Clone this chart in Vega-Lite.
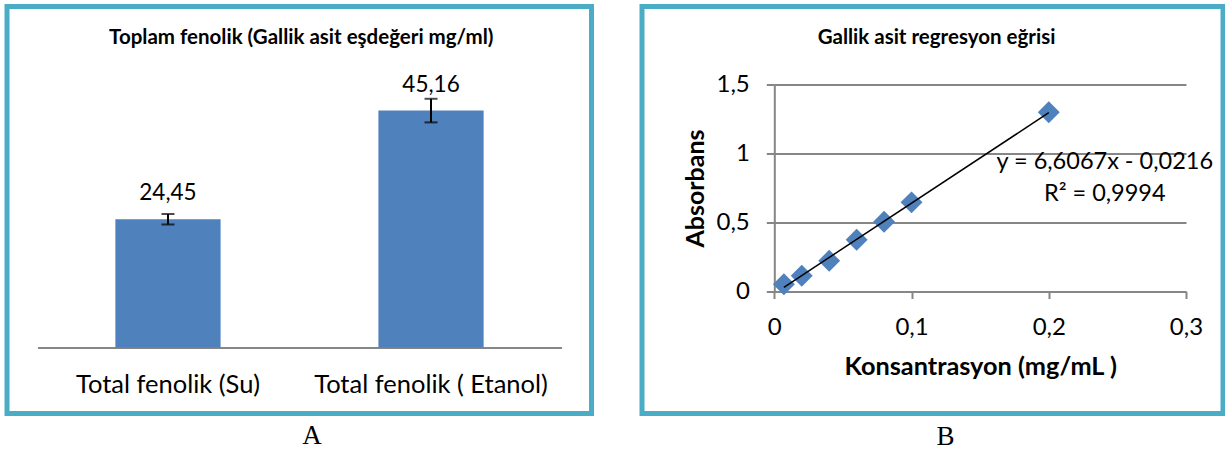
{
  "$schema": "https://vega.github.io/schema/vega-lite/v6.json",
  "background": "white",
  "padding": {"left": 4, "top": 3.5, "right": 0, "bottom": 0},
  "autosize": {"type": "pad"},
  "bounds": "flush",
  "spacing": 50,
  "config": {
    "locale": {"number": {"decimal": ",", "thousands": ".", "grouping": [3], "currency": ["", " TL"]}},
    "view": {"stroke": "#4bacc6", "strokeWidth": 5, "fill": "white"},
    "font": "Lato",
    "axis": {"labelFont": "Lato", "titleFont": "Lato", "labelColor": "black", "titleColor": "black"}
  },
  "hconcat": [
    {
      "width": 584.5,
      "height": 407,
      "title": {"text": "Toplam fenolik (Gallik asit eşdeğeri mg/ml)", "font": "Lato", "fontSize": 20.5, "fontWeight": "bold", "color": "black", "anchor": "middle", "baseline": "alphabetic", "offset": -58, "dx": 2},
      "data": {"values": [
        {"kategori": "Total fenolik (Su)", "deger": 24.45, "hata": 1.0},
        {"kategori": "Total fenolik ( Etanol)", "deger": 45.16, "hata": 2.25}
      ]},
      "encoding": {
        "x": {"field": "kategori", "type": "nominal", "sort": null,
          "scale": {"range": [30.5, 554.5], "paddingInner": 0.6, "paddingOuter": 0.296},
          "axis": {"title": "A", "orient": "bottom", "offset": -66, "domainColor": "#868686", "domainWidth": 2, "ticks": false, "tickSize": 0, "labelFontSize": 25.5, "labelPadding": 24.5, "labelAngle": 0, "labelLimit": 400, "grid": false, "titleFont": "Liberation Serif", "titleFontSize": 27, "titleFontWeight": "normal", "titleX": 304.5, "titleY": 96, "titleBaseline": "alphabetic", "titleAlign": "center"}}
      },
      "layer": [
        {"mark": {"type": "bar", "color": "#4f81bd"},
         "encoding": {"y": {"field": "deger", "type": "quantitative", "scale": {"domain": [0, 65], "range": [341, 0], "nice": false}, "axis": null}}},
        {"mark": {"type": "errorbar", "ticks": {"size": 13, "thickness": 2, "color": "black"}, "rule": {"strokeWidth": 2, "color": "black"}},
         "encoding": {"y": {"field": "deger", "type": "quantitative", "axis": null}, "yError": {"field": "hata"}}},
        {"mark": {"type": "text", "fontSize": 22.5, "font": "Lato", "baseline": "alphabetic", "dy": -19, "color": "black"},
         "encoding": {"y": {"field": "deger", "type": "quantitative", "axis": null}, "text": {"field": "deger", "type": "quantitative", "format": ".2f"}}}
      ]
    },
    {
      "width": 581,
      "height": 407,
      "title": {"text": "Gallik asit regresyon eğrisi", "font": "Lato", "fontSize": 20.5, "fontWeight": "bold", "color": "black", "anchor": "middle", "baseline": "alphabetic", "offset": -58, "dx": 4},
      "data": {"values": [
        {"x": 0.007, "y": 0.053},
        {"x": 0.02, "y": 0.114},
        {"x": 0.04, "y": 0.223},
        {"x": 0.06, "y": 0.376},
        {"x": 0.08, "y": 0.506},
        {"x": 0.1, "y": 0.647},
        {"x": 0.2, "y": 1.301}
      ]},
      "layer": [
        {"mark": {"type": "point", "shape": "diamond", "filled": true, "size": 480, "color": "#4f81bd", "opacity": 1},
         "encoding": {
           "x": {"field": "x", "type": "quantitative",
             "scale": {"domain": [0, 0.3], "range": [132.3, 544], "nice": false, "zero": false},
             "axis": {"title": "Konsantrasyon (mg/mL )", "orient": "bottom", "offset": -122, "values": [0, 0.1, 0.2, 0.3], "format": ".1~f", "grid": false, "domainColor": "#868686", "domainWidth": 2, "tickColor": "#868686", "tickWidth": 2, "tickSize": 7, "labelFontSize": 24, "labelPadding": 16.5, "labelFlush": false, "labelOverlap": false, "titleFontSize": 25.3, "titleFontWeight": "bold", "titleY": 83, "titleBaseline": "alphabetic", "titleAlign": "center"}},
           "y": {"field": "y", "type": "quantitative",
             "scale": {"domain": [0, 1.5], "range": [285, 78.3], "nice": false, "zero": false},
             "axis": {"title": "Absorbans", "values": [0, 0.5, 1, 1.5], "format": ".1~f", "offset": -132.3, "grid": true, "gridColor": "#868686", "gridWidth": 2, "domainColor": "#868686", "domainWidth": 2, "tickColor": "#868686", "tickWidth": 2, "tickSize": 8, "labelFontSize": 24, "labelPadding": 17, "labelFlush": false, "labelOverlap": false, "titleFontSize": 25, "titleFontWeight": "bold", "titleX": -71.3, "titleY": 181.5, "titleBaseline": "alphabetic", "titleAngle": -90, "titleAlign": "center"}}
         }},
        {"transform": [{"regression": "y", "on": "x"}],
         "mark": {"type": "line", "color": "black", "strokeWidth": 1.5},
         "encoding": {
           "x": {"field": "x", "type": "quantitative",
             "axis": {"orient": "bottom", "offset": -122, "title": "B", "domain": false, "ticks": false, "labels": false, "grid": false, "titleFont": "Liberation Serif", "titleFontSize": 27, "titleFontWeight": "normal", "titleX": 303, "titleY": 153, "titleBaseline": "alphabetic", "titleAlign": "center"}},
           "y": {"field": "y", "type": "quantitative"}
         }},
        {"transform": [{"filter": "datum.x == 0.2"}],
         "mark": {"type": "text", "text": ["y = 6,6067x - 0,0216", "R² = 0,9994"], "align": "center", "baseline": "alphabetic", "dx": 56, "dy": 56.6, "lineHeight": 31.7, "fontSize": 23.5, "font": "Lato", "color": "black"},
         "encoding": {
           "x": {"field": "x", "type": "quantitative", "axis": null},
           "y": {"field": "y", "type": "quantitative"}
         }}
      ],
      "resolve": {"axis": {"x": "independent"}}
    }
  ]
}
